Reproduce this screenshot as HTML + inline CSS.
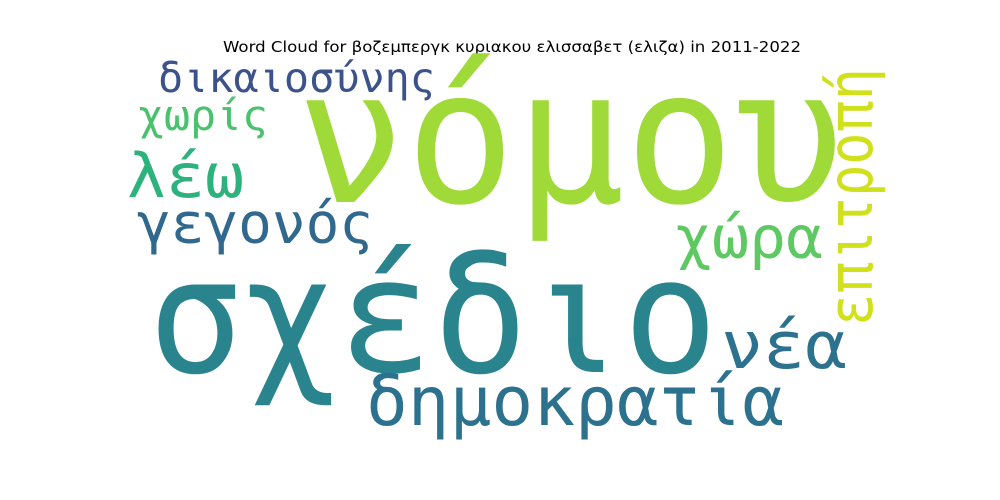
<!DOCTYPE html>
<html><head><meta charset="utf-8"><style>
html,body{margin:0;padding:0;background:#fff;}
svg{display:block;}
text{font-family:"DejaVu Sans Mono","Liberation Mono","Noto Sans CJK SC",monospace;}
.t{font-family:"DejaVu Sans","Liberation Sans",sans-serif;}
</style></head><body>
<svg width="1000" height="500" viewBox="0 0 1000 500">
<rect width="1000" height="500" fill="#fff"/>
<text class="t" x="512" y="52" text-anchor="middle" font-size="15" textLength="578" lengthAdjust="spacingAndGlyphs" fill="#000">Word Cloud for βοζεμπεργκ κυριακου ελισσαβετ (ελιζα) in 2011-2022</text>
<g>
<text x="296" y="202" font-size="186" fill="#a0da39" textLength="548" lengthAdjust="spacingAndGlyphs">νόμου</text>
<text x="148" y="372" font-size="160" fill="#2a848e" textLength="570" lengthAdjust="spacingAndGlyphs">σχέδιο</text>
<text x="366" y="425" font-size="68" fill="#2c728e" textLength="418" lengthAdjust="spacingAndGlyphs">δημοκρατία</text>
<text x="721" y="368" font-size="66" fill="#2c728e" textLength="126" lengthAdjust="spacingAndGlyphs">νέα</text>
<text x="675" y="258" font-size="59" fill="#5ec962" textLength="148" lengthAdjust="spacingAndGlyphs">χώρα</text>
<text x="137" y="243" font-size="56" fill="#31688e" textLength="236" lengthAdjust="spacingAndGlyphs">γεγονός</text>
<text x="127" y="197" font-size="61" fill="#2db27d" textLength="117" lengthAdjust="spacingAndGlyphs">λέω</text>
<text x="138" y="130" font-size="42" fill="#4ac16d" textLength="130" lengthAdjust="spacingAndGlyphs">χωρίς</text>
<text x="158" y="92" font-size="41" fill="#3b528b" textLength="277" lengthAdjust="spacingAndGlyphs">δικαιοσύνης</text>
<text transform="translate(872,326) rotate(-90)" font-size="62" fill="#d0e11c" textLength="258" lengthAdjust="spacingAndGlyphs">επιτροπή</text>
</g>
</svg>
</body></html>
